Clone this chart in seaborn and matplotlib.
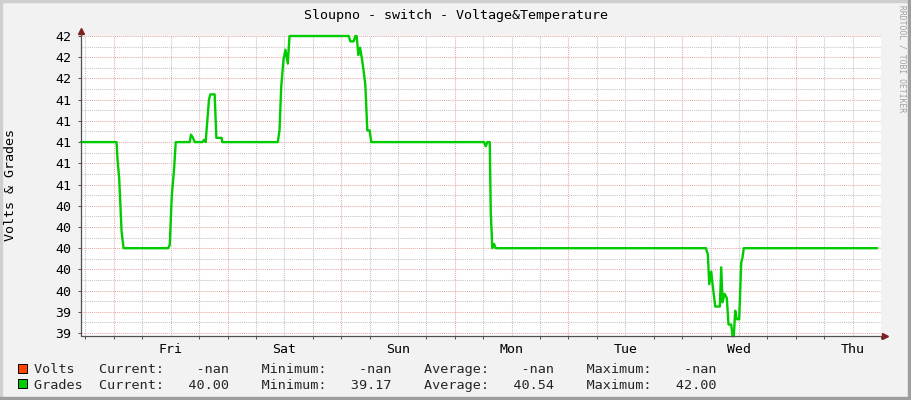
import numpy as np
import matplotlib
matplotlib.use('Agg')
import matplotlib.pyplot as plt
from matplotlib.patches import Rectangle
import seaborn as sns

# time in days since Thursday 00:00, grades readings
t_days = [0.7103, 1.0237, 1.0325, 1.0465, 1.0676, 1.0852, 1.4767, 1.4917, 1.5092, 1.5294,
          1.5443, 1.6673, 1.6787, 1.6962, 1.7112, 1.7788, 1.7928, 1.8077, 1.8191, 1.8367,
          1.8490, 1.8868, 1.9017, 1.9482, 1.9543, 2.4425, 2.4574, 2.4723, 2.4925, 2.5101,
          2.5303, 2.5452, 3.0658, 3.0808, 3.1097, 3.1247, 3.1361, 3.1510, 3.1659, 3.1835,
          3.1975, 3.2125, 3.2300, 3.2502, 3.2651, 4.2573, 4.2722, 4.2862, 4.3073, 4.3161,
          4.3301, 4.3451, 4.3600, 6.2090, 6.2265, 6.2388, 6.2563, 6.2678, 6.2915, 6.3319,
          6.3442, 6.3556, 6.3732, 6.3933, 6.4082, 6.4320, 6.4434, 6.4548, 6.4671, 6.4811,
          6.5022, 6.5198, 6.5312, 6.5426, 7.7164]
grades = [41.0, 41.0, 40.83, 40.66, 40.16, 40.0, 40.0, 40.03, 40.49, 40.74,
          41.0, 41.0, 41.07, 41.04, 41.0, 41.0, 41.02, 41.0, 41.16, 41.40,
          41.45, 41.45, 41.04, 41.04, 41.0, 41.0, 41.11, 41.52, 41.78, 41.87,
          41.74, 42.0, 42.0, 41.95, 41.95, 42.0, 42.0, 41.82, 41.89, 41.78,
          41.67, 41.54, 41.11, 41.11, 41.0, 41.0, 40.96, 41.0, 41.0, 40.34,
          40.0, 40.04, 40.0, 40.0, 39.94, 39.66, 39.78, 39.66, 39.45, 39.45,
          39.82, 39.49, 39.57, 39.53, 39.28, 39.28, 39.17, 39.17, 39.41, 39.33,
          39.33, 39.86, 39.91, 40.0, 40.0]

day_labels = ['Fri', 'Sat', 'Sun', 'Mon', 'Tue', 'Wed', 'Thu']
day_label_pos = [1.5, 2.5, 3.5, 4.5, 5.5, 6.5, 7.5]
ytick_vals = [39.2, 39.4, 39.6, 39.8, 40.0, 40.2, 40.4, 40.6, 40.8, 41.0, 41.2, 41.4, 41.6, 41.8, 42.0]
ytick_labels = ['39', '39', '40', '40', '40', '40', '40', '41', '41', '41', '41', '41', '42', '42', '42']

series_names = ['Volts', 'Grades']
series_colors = ['#FF4400', '#00CC00']
stat_current = ['-nan', '40.00']
stat_minimum = ['-nan', '39.17']
stat_average = ['-nan', '40.54']
stat_maximum = ['-nan', '42.00']

W, H = 911, 400
BG = '#F2F2F2'
GRID = '#C4C4C4'
MGRID = '#EBA8A8'
AXIS = '#505050'
ARROW = '#801F1F'
MONO = 'DejaVu Sans Mono'

sns.set_theme(style='white')
plt.rcParams['font.family'] = [MONO, 'DejaVu Sans']

fig = plt.figure(figsize=(W / 100, H / 100), dpi=100, facecolor=BG)

def fx(px):
    return px / W

def fy(py):
    return 1 - py / H

# frame shading
fig.patches.append(Rectangle((0, fy(2)), 1, 2 / H, transform=fig.transFigure, color='#CFCFCF', zorder=0))
fig.patches.append(Rectangle((0, 0), 2 / W, 1, transform=fig.transFigure, color='#CFCFCF', zorder=0))
fig.patches.append(Rectangle((0, 0), 1, 3 / H, transform=fig.transFigure, color='#9E9E9E', zorder=0))
fig.patches.append(Rectangle((fx(W - 3), 0), 3 / W, 1, transform=fig.transFigure, color='#9E9E9E', zorder=0))

# plot area: 81..881 px wide, 35.5..336 px high
ax = fig.add_axes([fx(81), fy(336), 800 / W, (336 - 35.5) / H])
ax.set_facecolor('white')

px_per_day = 114.06
x0 = 1 - 33 / px_per_day
ax.set_xlim(x0, x0 + 800 / px_per_day)
ax.set_ylim(39.172, 42.005)

dash = (0, (1, 1))
for v in np.arange(39.3, 42.0, 0.2):
    ax.axhline(v, color=GRID, lw=0.75, ls=dash, zorder=1)
for v in ytick_vals:
    ax.axhline(v, color=MGRID, lw=0.75, ls=dash, zorder=1)
minor_days = [d for d in np.arange(0.75, 7.76, 0.25) if abs(d - round(d)) > 1e-6]
for d in minor_days:
    ax.axvline(d, color=GRID, lw=0.75, ls=dash, zorder=1)
for d in range(1, 8):
    ax.axvline(d, color=MGRID, lw=0.75, ls=dash, zorder=1)

sns.lineplot(x=t_days, y=grades, ax=ax, color=series_colors[1], linewidth=1.7,
             sort=False, estimator=None, zorder=3)
for ln in ax.lines[-1:]:
    ln.set_clip_on(False)

# ticks
ax.set_xticks(day_label_pos)
ax.set_xticklabels(day_labels)
ax.set_xticks(list(np.arange(0.75, 7.76, 0.25)), minor=True)
ax.set_yticks(ytick_vals)
ax.set_yticklabels(ytick_labels)
ax.tick_params(axis='x', which='major', length=0, pad=5, labelsize=9.5, labelcolor='black')
ax.tick_params(axis='x', which='minor', length=2, width=0.7, color=AXIS, direction='out', bottom=True)
ax.tick_params(axis='y', which='major', length=2, width=0.7, color=AXIS, direction='out', pad=5,
               labelsize=9.5, labelcolor='black', left=True)

for s in ['top', 'right', 'left', 'bottom']:
    ax.spines[s].set_visible(False)

# axes with arrows
ax.plot([0, 1.003], [0, 0], transform=ax.transAxes, color=AXIS, lw=0.9, clip_on=False, zorder=4)
ax.plot([0, 0], [0, 1.01], transform=ax.transAxes, color=AXIS, lw=0.9, clip_on=False, zorder=4)
ax.plot([1.005], [0], transform=ax.transAxes, marker='>', ms=4.5, color=ARROW, clip_on=False, zorder=5)
ax.plot([0], [1.015], transform=ax.transAxes, marker='^', ms=4.5, color=ARROW, clip_on=False, zorder=5)

ax.set_xlabel('')
ax.set_ylabel('')

# titles
fig.text(fx(455.5), fy(19.5), 'Sloupno - switch - Voltage&Temperature', ha='center', va='baseline',
         fontsize=9.6, color='black')
fig.text(fx(11), fy(185), 'Volts & Grades', rotation=90, ha='center', va='center',
         fontsize=9.6, color='black')
fig.text(fx(902), fy(5), 'RRDTOOL / TOBI OETIKER', rotation=270, ha='center', va='top',
         fontsize=5.8, color='#A0A0A0')

# legend rows (monospace, fixed columns like rrdtool GPRINT)
row_base = [373.0, 388.5]
for i, name in enumerate(series_names):
    fig.patches.append(Rectangle((fx(17.5), fy(row_base[i] - 0.5)), 9 / W, 9 / H,
                                 transform=fig.transFigure, facecolor=series_colors[i],
                                 edgecolor='black', lw=0.7, zorder=5))
    row = (f"{name:<8}"
           f"Current:{stat_current[i]:>8}    "
           f"Minimum:{stat_minimum[i]:>8}    "
           f"Average:{stat_average[i]:>8}    "
           f"Maximum:{stat_maximum[i]:>8}")
    fig.text(fx(34.5), fy(row_base[i]), row, ha='left', va='baseline', fontsize=9.7)

fig.savefig('out.png', dpi=100, facecolor=BG)
